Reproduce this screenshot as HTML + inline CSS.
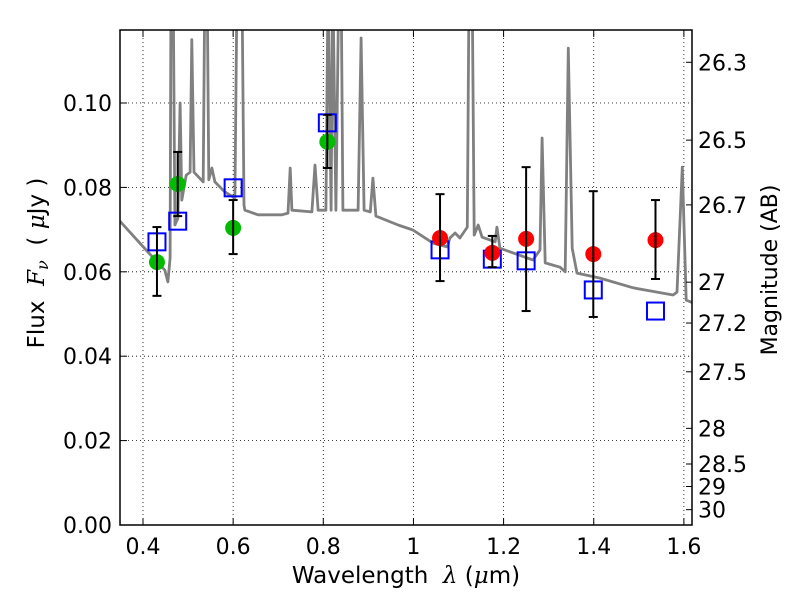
<!DOCTYPE html>
<html><head><meta charset="utf-8"><style>
body{margin:0;background:#fff}
svg{display:block;font-family:"DejaVu Sans","Liberation Sans",sans-serif}
text{white-space:pre}
</style></head><body>
<svg id="c" width="800" height="600"></svg>
<script>
const specLam=[0.3491,0.4109,0.4485,0.4553,0.4601,0.4621,0.4669,0.4707,0.4775,0.4823,0.4862,0.4958,0.5045,0.5084,0.5132,0.5335,0.5373,0.5422,0.5460,0.5528,0.5595,0.5818,0.6040,0.6088,0.6194,0.6242,0.6261,0.6551,0.7082,0.7217,0.7265,0.7304,0.7748,0.7816,0.7884,0.8058,0.8106,0.8173,0.8212,0.8280,0.8347,0.8395,0.8434,0.8772,0.8839,0.8906,0.9042,0.9100,0.9167,0.9660,0.9988,1.0432,1.0751,1.0809,1.0925,1.1031,1.1195,1.1234,1.1301,1.1349,1.1436,1.1523,1.1813,1.1851,1.1919,1.2653,1.2807,1.2855,1.2923,1.3251,1.3367,1.3435,1.3522,1.3628,1.4139,1.4873,1.5761,1.5848,1.5964,1.6051,1.6205];
const specFlux=[0.0720,0.0647,0.0604,0.0576,0.0633,0.13,0.13,0.0711,0.0727,0.1000,0.0770,0.0829,0.0836,0.115,0.0836,0.0813,0.13,0.13,0.0818,0.0846,0.0813,0.0789,0.0775,0.13,0.13,0.0758,0.0746,0.0735,0.0735,0.0739,0.0846,0.0746,0.0742,0.0853,0.0746,0.0746,0.13,0.0746,0.13,0.0746,0.13,0.13,0.0746,0.0746,0.1154,0.0746,0.0742,0.0822,0.0732,0.0711,0.0699,0.0668,0.0659,0.0680,0.0692,0.0680,0.0706,0.13,0.13,0.0687,0.0711,0.0682,0.0671,0.0706,0.0656,0.0628,0.0652,0.0917,0.0621,0.0611,0.0600,0.1130,0.0656,0.0597,0.0585,0.0562,0.0545,0.0552,0.0848,0.0533,0.0526];
const greenLam=[0.431,0.477,0.600,0.809];
const greenFlux=[0.0623,0.0808,0.0704,0.0908];
const greenHi=[0.0706,0.0884,0.0770,0.0972];
const greenLo=[0.0543,0.0732,0.0642,0.0846];
const redLam=[1.059,1.175,1.250,1.399,1.537];
const redFlux=[0.0680,0.0645,0.0678,0.0642,0.0675];
const redHi=[0.0784,0.0685,0.0848,0.0791,0.0770];
const redLo=[0.0578,0.0611,0.0507,0.0493,0.0583];
const modelLam=[0.431,0.477,0.600,0.809,1.059,1.175,1.250,1.399,1.537];
const modelFlux=[0.0671,0.0720,0.0799,0.0953,0.0652,0.0630,0.0626,0.0557,0.0507];
const xTicks=[0.4,0.6,0.8,1.0,1.2,1.4,1.6];
const xTickLabels=["0.4","0.6","0.8","1","1.2","1.4","1.6"];
const yTicks=[0,0.02,0.04,0.06,0.08,0.10];
const yTickLabels=["0.00","0.02","0.04","0.06","0.08","0.10"];
const magTicks=[26.3,26.5,26.7,27,27.2,27.5,28,28.5,29,30];

const L=120,R=692,T=30,B=525,X0=0.349,X1=1.618,Y0=0,Y1=0.1173;
const sx=v=>L+(v-X0)/(X1-X0)*(R-L);
const sy=v=>B-(v-Y0)/(Y1-Y0)*(B-T);
const svg=document.getElementById('c');
const NS='http://www.w3.org/2000/svg';
function mk(tag,at,parent){const e=document.createElementNS(NS,tag);for(const k in at)e.setAttribute(k,at[k]);(parent||svg).appendChild(e);return e;}
const defs=mk('defs',{});const cp=mk('clipPath',{id:'clip'},defs);mk('rect',{x:L,y:T,width:R-L,height:B-T},cp);

xTicks.forEach(t=>{const g=mk('line',{x1:sx(t),x2:sx(t),y1:T,y2:B,stroke:'#000','stroke-width':0.8,'stroke-dasharray':'1,3'});

});
yTicks.forEach(t=>{const g=mk('line',{x1:L,x2:R,y1:sy(t),y2:sy(t),stroke:'#000','stroke-width':0.8,'stroke-dasharray':'1,3'});

});

const pts=specLam.map((l,i)=>sx(l).toFixed(1)+','+sy(specFlux[i]).toFixed(1)).join(' ');
const sp=mk('polyline',{points:pts,fill:'none',stroke:'#808080','stroke-width':2.8,'clip-path':'url(#clip)','stroke-linejoin':'round'});



function errbar(x,lo,hi){
  const g=mk('g',{stroke:'#000','stroke-width':2});
  
  
  mk('line',{x1:sx(x),x2:sx(x),y1:sy(lo),y2:sy(hi)},g);
  mk('line',{x1:sx(x)-4.5,x2:sx(x)+4.5,y1:sy(lo),y2:sy(lo)},g);
  mk('line',{x1:sx(x)-4.5,x2:sx(x)+4.5,y1:sy(hi),y2:sy(hi)},g);
}
modelLam.forEach((l,i)=>{const r=mk('rect',{x:sx(l)-8.5,y:sy(modelFlux[i])-8.5,width:17,height:17,fill:'none',stroke:'#0000ff','stroke-width':2});

});
greenLam.forEach((l,i)=>{const c=mk('circle',{cx:sx(l),cy:sy(greenFlux[i]),r:8,fill:'#00bb00'});


errbar(l,greenLo[i],greenHi[i]);});
redLam.forEach((l,i)=>{const c=mk('circle',{cx:sx(l),cy:sy(redFlux[i]),r:8,fill:'#ff0000'});


errbar(l,redLo[i],redHi[i]);});

const fr=mk('rect',{x:L,y:T,width:R-L,height:B-T,fill:'none',stroke:'#000','stroke-width':1.5});



xTicks.forEach((t,i)=>{
  mk('line',{x1:sx(t),x2:sx(t),y1:B,y2:B-7,stroke:'#000'});
  mk('line',{x1:sx(t),x2:sx(t),y1:T,y2:T+7,stroke:'#000'});
  const tx=mk('text',{x:sx(t),y:B+29,'font-size':22,'text-anchor':'middle'});tx.textContent=xTickLabels[i];
  
  
});
yTicks.forEach((t,i)=>{
  mk('line',{x1:L,x2:L+7,y1:sy(t),y2:sy(t),stroke:'#000'});
  const tx=mk('text',{x:L-8,y:sy(t)+8,'font-size':22,'text-anchor':'end'});tx.textContent=yTickLabels[i];
  
  
});
magTicks.forEach(m=>{
  const f=Math.pow(10,(23.9-m)/2.5);const y=sy(f);
  mk('line',{x1:R-6,x2:R,y1:y,y2:y,stroke:'#000'});
  const tx=mk('text',{x:R+6,y:y+8,'font-size':22});tx.textContent=String(m);
  
  
});

const xl=mk('text',{x:406,y:583,'font-size':23,'text-anchor':'middle'});
xl.innerHTML='Wavelength  <tspan font-style="italic" font-family="DejaVu Serif">λ</tspan> (<tspan font-style="italic" font-family="DejaVu Serif">μ</tspan>m)';


const yl=mk('text',{x:0,y:0,'font-size':23,'text-anchor':'middle',transform:'translate(44,263) rotate(-90)'});
yl.innerHTML='Flux  <tspan font-style="italic" font-family="DejaVu Serif">F</tspan><tspan font-style="italic" font-family="DejaVu Serif" font-size="16" dy="4">ν</tspan><tspan dy="-4">  ( </tspan><tspan font-style="italic" font-family="DejaVu Serif">μ</tspan>Jy )';


const ml=mk('text',{x:0,y:0,'font-size':22,'text-anchor':'middle',transform:'translate(777,270) rotate(-90)'});
ml.textContent='Magnitude (AB)';


</script>
</body></html>
